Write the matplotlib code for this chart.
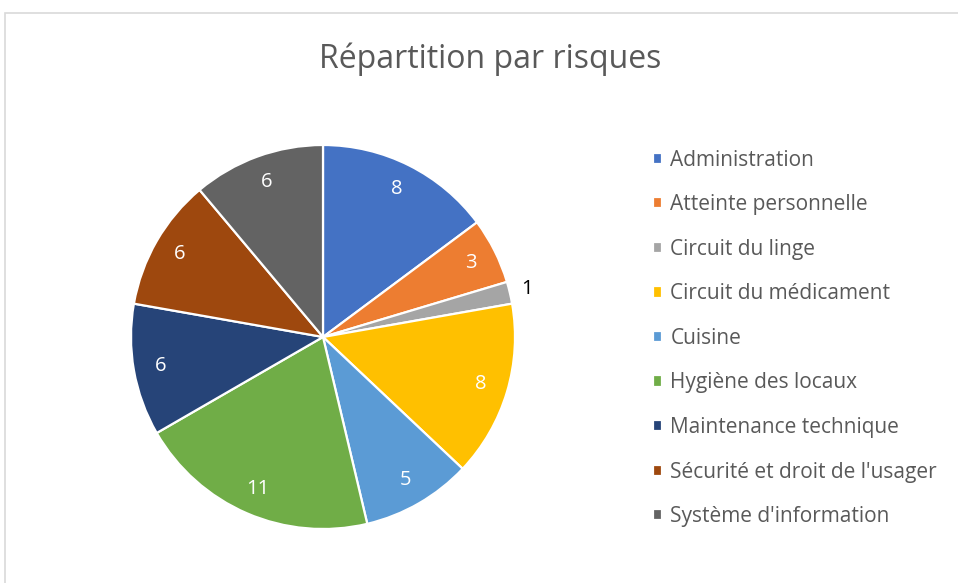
import matplotlib.pyplot as plt
from matplotlib.patches import Rectangle

categories = [
    "Administration",
    "Atteinte personnelle",
    "Circuit du linge",
    "Circuit du médicament",
    "Cuisine",
    "Hygiène des locaux",
    "Maintenance technique",
    "Sécurité et droit de l'usager",
    "Système d'information",
]
values = [8, 3, 1, 8, 5, 11, 6, 6, 6]
colors = ["#4472C4", "#ED7D31", "#A5A5A5", "#FFC000", "#5B9BD5",
          "#70AD47", "#264478", "#9E480E", "#636363"]

plt.rcParams["font.family"] = ["Open Sans", "DejaVu Sans"]

W, H = 958, 583
fig = plt.figure(figsize=(W / 100, H / 100), dpi=100)

# light chart border
fig.patches.append(Rectangle((5 / W, -0.01), 1.0, (H - 13) / H + 0.01,
                             transform=fig.transFigure, fill=False,
                             edgecolor="#D9D9D9", linewidth=1.2))

cx, cy, r = 323, 337, 192
ax = fig.add_axes([(cx - r) / W, (H - cy - r) / H, 2 * r / W, 2 * r / H])

wedges, texts = ax.pie(
    values,
    colors=colors,
    startangle=90,
    counterclock=False,
    labels=[str(v) for v in values],
    labeldistance=0.86,
    wedgeprops=dict(edgecolor="white", linewidth=1.6),
    textprops=dict(color="white", fontsize=14.5),
)
for t, v in zip(texts, values):
    t.set_ha("center")
    t.set_va("center")
    if v == 1:
        # small slice: label outside in dark text
        x, y = t.get_position()
        t.set_position((x * 1.09 / 0.86, y * 1.09 / 0.86))
        t.set_color("#000000")
ax.set_xlim(-1, 1)
ax.set_ylim(-1, 1)
ax.set_aspect("equal")

fig.text(490 / W, 1 - 59 / H, "Répartition par risques", ha="center",
         va="center", fontsize=23, color="#595959")

fig.legend(
    wedges, categories,
    loc="upper left",
    bbox_to_anchor=(634 / W, 1 - 131 / H),
    frameon=False,
    fontsize=15,
    labelcolor="#595959",
    handlelength=0.45,
    handleheight=0.45,
    handletextpad=0.4,
    labelspacing=1.13,
)

fig.savefig("out.png", dpi=100)
